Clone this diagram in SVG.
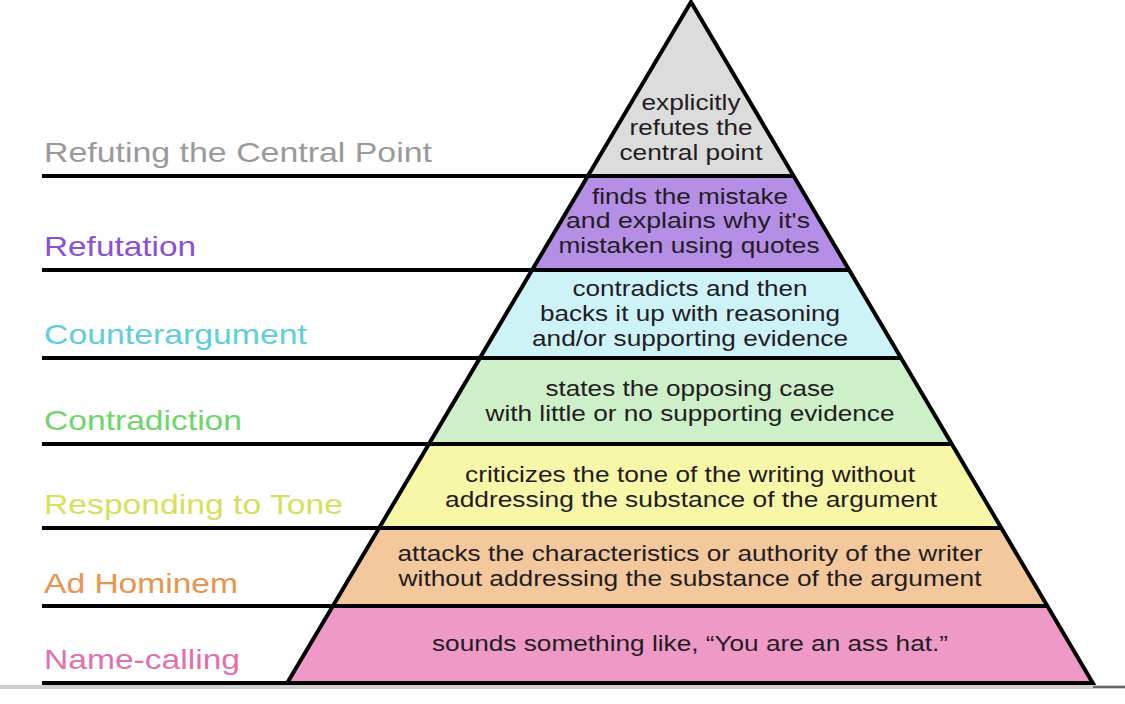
<svg xmlns="http://www.w3.org/2000/svg" width="1125" height="704" viewBox="0 0 1125 704">
<style>
.lbl{font-family:"Liberation Sans",Arial,sans-serif;font-size:28px}
.in{font-family:"Liberation Sans",Arial,sans-serif;font-size:22px;fill:#231c23;text-anchor:middle}
.rule{stroke:#000;stroke-width:4;fill:none}
</style>
<rect width="1125" height="704" fill="#fff"/>
<rect x="0" y="685" width="1125" height="4" fill="#cfcfcf"/>
<line x1="1093" y1="687" x2="1125" y2="687" stroke="#444" stroke-width="1.5"/>

<g id="tier-refuting-central-point">
<polygon points="691,2 793.7,176 587.8,176" fill="#dcdcdc"/>
<text class="lbl" x="44" y="162" fill="#9a9a9a" textLength="388" lengthAdjust="spacingAndGlyphs">Refuting the Central Point</text>
<text class="in" x="691" y="110" textLength="99" lengthAdjust="spacingAndGlyphs">explicitly</text>
<text class="in" x="691" y="135" textLength="123" lengthAdjust="spacingAndGlyphs">refutes the</text>
<text class="in" x="691" y="160" textLength="143" lengthAdjust="spacingAndGlyphs">central point</text>
</g>

<g id="tier-refutation">
<polygon points="587.8,176 793.7,176 849.1,270 532.1,270" fill="#b58ee6"/>
<text class="lbl" x="44" y="256" fill="#8c50d8" textLength="152" lengthAdjust="spacingAndGlyphs">Refutation</text>
<text class="in" x="690" y="204" textLength="196" lengthAdjust="spacingAndGlyphs">finds the mistake</text>
<text class="in" x="688" y="228" textLength="244" lengthAdjust="spacingAndGlyphs">and explains why it's</text>
<text class="in" x="689" y="253" textLength="261" lengthAdjust="spacingAndGlyphs">mistaken using quotes</text>
</g>

<g id="tier-counterargument">
<polygon points="532.1,270 849.1,270 901,358 479.9,358" fill="#cdf3f7"/>
<text class="lbl" x="44" y="344" fill="#5ccfd8" textLength="263" lengthAdjust="spacingAndGlyphs">Counterargument</text>
<text class="in" x="690" y="296" textLength="235" lengthAdjust="spacingAndGlyphs">contradicts and then</text>
<text class="in" x="690" y="321" textLength="300" lengthAdjust="spacingAndGlyphs">backs it up with reasoning</text>
<text class="in" x="690" y="346" textLength="316" lengthAdjust="spacingAndGlyphs">and/or supporting evidence</text>
</g>

<g id="tier-contradiction">
<polygon points="479.9,358 901,358 951.8,444 428.9,444" fill="#cdf0c8"/>
<text class="lbl" x="44" y="430" fill="#6cd66a" textLength="198" lengthAdjust="spacingAndGlyphs">Contradiction</text>
<text class="in" x="690" y="396" textLength="289" lengthAdjust="spacingAndGlyphs">states the opposing case</text>
<text class="in" x="690" y="421" textLength="409" lengthAdjust="spacingAndGlyphs">with little or no supporting evidence</text>
</g>

<g id="tier-responding-to-tone">
<polygon points="428.9,444 951.8,444 1001.3,528 379.1,528" fill="#f7f7a8"/>
<text class="lbl" x="44" y="514" fill="#d6e05a" textLength="299" lengthAdjust="spacingAndGlyphs">Responding to Tone</text>
<text class="in" x="690" y="482" textLength="450" lengthAdjust="spacingAndGlyphs">criticizes the tone of the writing without</text>
<text class="in" x="691" y="507" textLength="492" lengthAdjust="spacingAndGlyphs">addressing the substance of the argument</text>
</g>

<g id="tier-ad-hominem">
<polygon points="379.1,528 1001.3,528 1047.4,606 332.8,606" fill="#f3c89c"/>
<text class="lbl" x="44" y="593" fill="#e8944c" textLength="194" lengthAdjust="spacingAndGlyphs">Ad Hominem</text>
<text class="in" x="690" y="561" textLength="585" lengthAdjust="spacingAndGlyphs">attacks the characteristics or authority of the writer</text>
<text class="in" x="690" y="586" textLength="583" lengthAdjust="spacingAndGlyphs">without addressing the substance of the argument</text>
</g>

<g id="tier-name-calling">
<polygon points="332.8,606 1047.4,606 1092.8,683 287.2,683" fill="#ef9ac6"/>
<text class="lbl" x="44" y="669" fill="#e070ae" textLength="196" lengthAdjust="spacingAndGlyphs">Name-calling</text>
<text class="in" x="690" y="651" textLength="516" lengthAdjust="spacingAndGlyphs">sounds something like, “You are an ass hat.”</text>
</g>

<g id="connectors">
<line class="rule" x1="42" y1="176" x2="793.7" y2="176"/>
<line class="rule" x1="42" y1="270" x2="849.1" y2="270"/>
<line class="rule" x1="42" y1="358" x2="901" y2="358"/>
<line class="rule" x1="42" y1="444" x2="951.8" y2="444"/>
<line class="rule" x1="42" y1="528" x2="1001.3" y2="528"/>
<line class="rule" x1="42" y1="606" x2="1047.4" y2="606"/>
<line class="rule" x1="42" y1="683" x2="1092.8" y2="683"/>
<polygon class="rule" points="691,2 1092.8,683 287.2,683" stroke-linejoin="miter" stroke-miterlimit="10"/>
</g>
</svg>
